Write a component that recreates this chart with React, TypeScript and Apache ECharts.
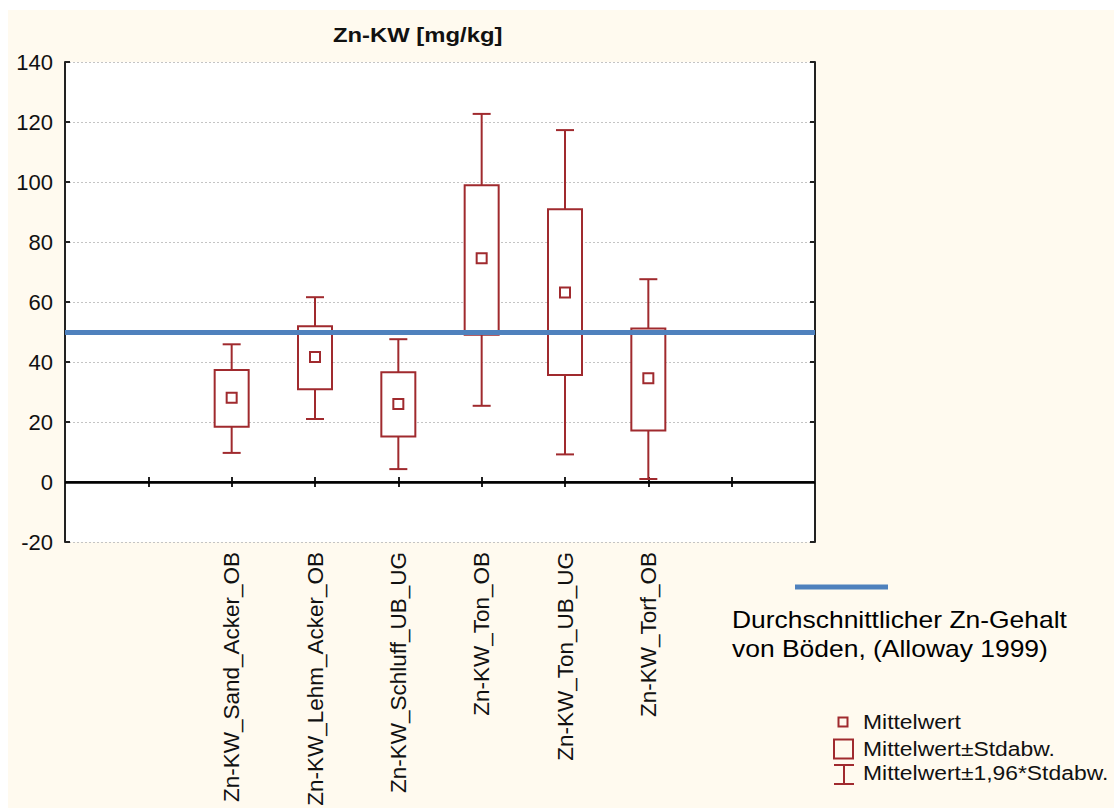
import React, { useEffect, useRef } from "react";
import * as echarts from "echarts";

// Category slots along the x axis (empty slots give the padding on either side)
const categories = [
  "",
  "",
  "Zn-KW_Sand_Acker_OB",
  "Zn-KW_Lehm_Acker_OB",
  "Zn-KW_Schluff_UB_UG",
  "Zn-KW_Ton_OB",
  "Zn-KW_Ton_UB_UG",
  "Zn-KW_Torf_OB",
  "",
  "",
];

// Groups that carry data
const groups = [
  "Zn-KW_Sand_Acker_OB",
  "Zn-KW_Lehm_Acker_OB",
  "Zn-KW_Schluff_UB_UG",
  "Zn-KW_Ton_OB",
  "Zn-KW_Ton_UB_UG",
  "Zn-KW_Torf_OB",
];

// Zn-KW [mg/kg]
const means = [28.1, 41.7, 26.0, 74.6, 63.2, 34.6];
const sdLow = [18.4, 30.9, 15.2, 49.1, 35.7, 17.2];
const sdHigh = [37.3, 51.9, 36.6, 98.9, 90.9, 51.2];
const ciLow = [9.7, 21.0, 4.3, 25.4, 9.2, 1.0];
const ciHigh = [45.9, 61.6, 47.6, 122.7, 117.3, 67.6];

// Reference value: average Zn content of soils (Alloway 1999)
const referenceValue = 50;

const yMin = -20;
const yMax = 140;
const yStep = 20;

const legendLabels = [
  "Mittelwert",
  "Mittelwert±Stdabw.",
  "Mittelwert±1,96*Stdabw.",
];
const noteLines = ["Durchschnittlicher Zn-Gehalt", "von Böden, (Alloway 1999)"];
const titleText = "Zn-KW [mg/kg]";

const RED = "#A02A2E";
const BLUE = "#4F81BD";
const CREAM = "#FFFAEF";
const FONT = "'Liberation Sans', Arial, Helvetica, sans-serif";

export default function App() {
  const ref = useRef<HTMLDivElement>(null);

  useEffect(() => {
    if (!ref.current) return;
    const chart = echarts.init(ref.current, undefined, { renderer: "svg" });

    const boxData = groups.map((g, i) => [
      categories.indexOf(g),
      ciLow[i],
      sdLow[i],
      means[i],
      sdHigh[i],
      ciHigh[i],
    ]);

    const renderItem = (params: any, api: any) => {
      const x = api.value(0);
      const pLo = api.coord([x, api.value(1)]);
      const pBoxLo = api.coord([x, api.value(2)]);
      const pMean = api.coord([x, api.value(3)]);
      const pBoxHi = api.coord([x, api.value(4)]);
      const pHi = api.coord([x, api.value(5)]);
      const cx = pMean[0];
      const boxHalf = 17;
      const capHalf = 9;
      const m = 5;
      const line = { stroke: RED, lineWidth: 2, fill: "none" };
      return {
        type: "group",
        children: [
          { type: "line", shape: { x1: cx, y1: pHi[1], x2: cx, y2: pBoxHi[1] }, style: line },
          { type: "line", shape: { x1: cx, y1: pBoxLo[1], x2: cx, y2: pLo[1] }, style: line },
          { type: "line", shape: { x1: cx - capHalf, y1: pHi[1], x2: cx + capHalf, y2: pHi[1] }, style: line },
          { type: "line", shape: { x1: cx - capHalf, y1: pLo[1], x2: cx + capHalf, y2: pLo[1] }, style: line },
          {
            type: "rect",
            shape: { x: cx - boxHalf, y: pBoxHi[1], width: boxHalf * 2, height: pBoxLo[1] - pBoxHi[1] },
            style: { stroke: RED, lineWidth: 2, fill: "#ffffff" },
          },
          {
            type: "rect",
            shape: { x: cx - m, y: pMean[1] - m, width: m * 2, height: m * 2 },
            style: { stroke: RED, lineWidth: 2, fill: "#ffffff" },
          },
        ],
      };
    };

    const legendX = 826;
    const legendTextX = 855;
    const legendFont = `21px ${FONT}`;
    const legendScale = 1.09;

    chart.setOption({
      animation: false,
      backgroundColor: CREAM,
      grid: {
        left: 57,
        top: 52,
        right: 299,
        bottom: 266,
        outerBoundsMode: "none",
        containLabel: false,
        show: true,
        backgroundColor: "#ffffff",
        borderWidth: 0,
      },
      xAxis: [
        {
          type: "category",
          data: categories,
          boundaryGap: false,
          position: "bottom",
          axisLine: { lineStyle: { color: "#222", width: 2 } },
          axisTick: { show: true, inside: true, length: 5, interval: 0, lineStyle: { color: "#222", width: 2 } },
          axisLabel: {
            interval: 0,
            rotate: 90,
            margin: 10,
            fontFamily: FONT,
            fontSize: 22.5,
            color: "#111",
            hideOverlap: false,
          },
          splitLine: { show: false },
        },
        {
          type: "category",
          data: categories,
          boundaryGap: false,
          position: "top",
          axisLine: { lineStyle: { color: "#222", width: 2 } },
          axisTick: { show: true, inside: true, length: 5, interval: 0, lineStyle: { color: "#222", width: 2 } },
          axisLabel: { show: false },
          splitLine: { show: false },
        },
      ],
      yAxis: [
        {
          type: "value",
          min: yMin,
          max: yMax,
          interval: yStep,
          position: "left",
          axisLine: { show: true, lineStyle: { color: "#222", width: 2 } },
          axisTick: { show: true, inside: true, length: 5, lineStyle: { color: "#222", width: 2 } },
          axisLabel: { margin: 12, fontFamily: FONT, fontSize: 22, color: "#111" },
          splitLine: { show: true, lineStyle: { color: "#c4c4c4", width: 1, type: [2, 2] } },
        },
        {
          type: "value",
          min: yMin,
          max: yMax,
          interval: yStep,
          position: "right",
          axisLine: { show: true, lineStyle: { color: "#222", width: 2 } },
          axisTick: { show: true, inside: true, length: 5, lineStyle: { color: "#222", width: 2 } },
          axisLabel: { show: false },
          splitLine: { show: false },
        },
      ],
      series: [
        {
          type: "line",
          data: [],
          silent: true,
          z: 1,
          markLine: {
            silent: true,
            symbol: "none",
            label: { show: false },
            lineStyle: { color: "#000", width: 2.5, type: "solid" },
            data: [{ yAxis: 0 }],
          },
        },
        {
          type: "custom",
          renderItem,
          data: boxData,
          z: 3,
          silent: true,
        },
        {
          type: "line",
          data: [],
          silent: true,
          z: 10,
          markLine: {
            silent: true,
            symbol: "none",
            label: { show: false },
            lineStyle: { color: BLUE, width: 5, type: "solid" },
            data: [{ yAxis: referenceValue }],
          },
        },
      ],
      graphic: [
        {
          type: "text",
          x: 325,
          y: 25,
          scaleX: 1.135,
          style: {
            text: titleText,
            font: `bold 21px ${FONT}`,
            fill: "#111",
            verticalAlign: "middle",
          },
        },
        // reference line key and note
        {
          type: "line",
          shape: { x1: 787, y1: 577, x2: 880, y2: 577 },
          style: { stroke: BLUE, lineWidth: 5 },
        },
        {
          type: "text",
          x: 724,
          y: 610,
          scaleX: 1.15,
          style: { text: noteLines[0], font: `23px ${FONT}`, fill: "#000", verticalAlign: "middle" },
        },
        {
          type: "text",
          x: 724,
          y: 639,
          scaleX: 1.15,
          style: { text: noteLines[1], font: `23px ${FONT}`, fill: "#000", verticalAlign: "middle" },
        },
        // legend: mean marker
        {
          type: "rect",
          shape: { x: legendX + 4.5, y: 707.5, width: 9, height: 9 },
          style: { stroke: RED, lineWidth: 2, fill: "none" },
        },
        {
          type: "text",
          x: legendTextX,
          y: 712,
          scaleX: legendScale,
          style: { text: legendLabels[0], font: legendFont, fill: "#111", verticalAlign: "middle" },
        },
        // legend: ± SD box
        {
          type: "rect",
          shape: { x: legendX, y: 729.5, width: 19, height: 19 },
          style: { stroke: RED, lineWidth: 2, fill: "none" },
        },
        {
          type: "text",
          x: legendTextX,
          y: 739,
          scaleX: legendScale,
          style: { text: legendLabels[1], font: legendFont, fill: "#111", verticalAlign: "middle" },
        },
        // legend: ± 1.96 SD whisker
        {
          type: "line",
          shape: { x1: legendX, y1: 755, x2: legendX + 20, y2: 755 },
          style: { stroke: RED, lineWidth: 2 },
        },
        {
          type: "line",
          shape: { x1: legendX + 10, y1: 755, x2: legendX + 10, y2: 774 },
          style: { stroke: RED, lineWidth: 2 },
        },
        {
          type: "line",
          shape: { x1: legendX, y1: 774, x2: legendX + 20, y2: 774 },
          style: { stroke: RED, lineWidth: 2 },
        },
        {
          type: "text",
          x: legendTextX,
          y: 763,
          scaleX: legendScale,
          style: { text: legendLabels[2], font: legendFont, fill: "#111", verticalAlign: "middle" },
        },
      ],
    });

    return () => chart.dispose();
  }, []);

  return (
    <div
      ref={ref}
      style={{
        position: "absolute",
        left: 8,
        top: 10,
        width: 1106,
        height: 798,
        background: CREAM,
      }}
    />
  );
}
